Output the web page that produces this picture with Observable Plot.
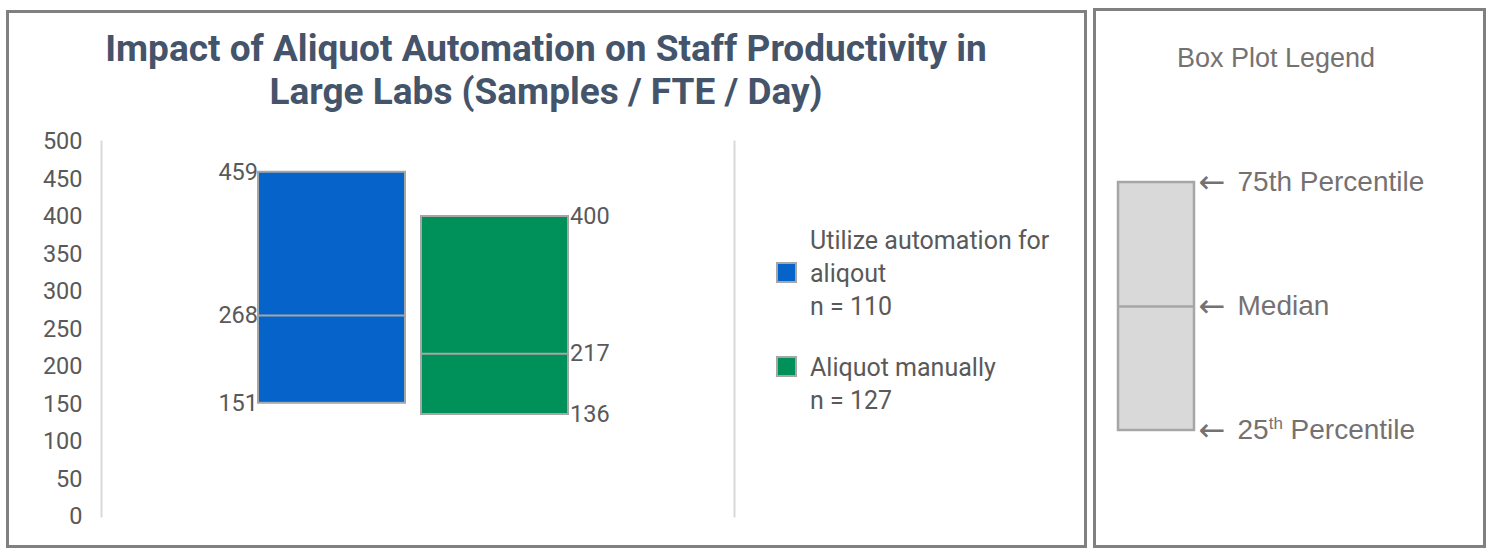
<!DOCTYPE html>
<html><head><meta charset="utf-8">
<script src="https://cdn.jsdelivr.net/npm/d3@7"></script>
<script src="https://cdn.jsdelivr.net/npm/@observablehq/plot@0.6"></script>
<style>
body{margin:0;width:1491px;height:558px;background:#fff;position:relative;overflow:hidden;font-family:Roboto,sans-serif;}
.panel{position:absolute;box-sizing:border-box;border:3px solid #808080;}
#title{position:absolute;left:46px;width:1000px;top:27px;text-align:center;font-family:Roboto,sans-serif;font-weight:700;font-size:37px;line-height:43px;color:#44546a;white-space:nowrap;}
#main{position:absolute;left:0;top:120px;}
#legend{position:absolute;left:776px;top:224px;font-family:Roboto,sans-serif;font-size:25px;line-height:33px;color:#595959;}
.item{position:relative;padding-left:34px;}
.sw{position:absolute;left:0;width:17px;height:17px;border:2px solid #a6a6a6;}
#boxtitle{position:absolute;left:1076px;width:400px;top:43px;text-align:center;font-family:"Liberation Sans",Arial,sans-serif;font-size:27px;color:#767171;}
#boxplot{position:absolute;left:1100px;top:150px;}
</style></head><body>
<div class="panel" style="left:6px;top:10px;width:1081px;height:538px"></div>
<div class="panel" style="left:1093px;top:8px;width:393px;height:540px"></div>
<div id="title">Impact of Aliquot Automation on Staff Productivity in<br>Large Labs (Samples / FTE / Day)</div>
<div id="main"></div>
<div id="legend"></div>
<div id="boxtitle">Box Plot Legend</div>
<div id="boxplot"></div>
<script>
// ---- data ----
const groups = ["Utilize automation for aliqout", "Aliquot manually"];
const legendLines = [["Utilize automation for", "aliqout", "n = 110"], ["Aliquot manually", "n = 127"]];
const q1Values = [151, 136];
const medianValues = [268, 217];
const q3Values = [459, 400];
const groupColors = ["#0563c9", "#00915a"];
const yTicks = [0, 50, 100, 150, 200, 250, 300, 350, 400, 450, 500];
const legendPercentiles = [75, 50, 25];
const legendLabels = ["75th Percentile", "Median", "25th Percentile"];

const rows = groups.map((g, i) => ({group: g, q1: q1Values[i], median: medianValues[i], q3: q3Values[i]}));
const labelRows = rows.flatMap(r => [r.q1, r.median, r.q3].map(v => ({group: r.group, value: v})));

const chart = Plot.plot({
  width: 1085, height: 420,
  marginLeft: 101, marginRight: 351, marginTop: 21, marginBottom: 24,
  style: {fontFamily: "Roboto, sans-serif", fontSize: "23.5px", color: "#595959", background: "transparent", overflow: "visible"},
  x: {type: "band", domain: groups, paddingInner: 0.0976, paddingOuter: 0.985, align: 0.486, axis: null},
  y: {domain: [0, 500], ticks: yTicks, tickSize: 0, tickPadding: 19, label: null},
  color: {domain: groups, range: groupColors},
  marks: [
    Plot.frame({anchor: "left", stroke: "#d9d9d9", strokeWidth: 2}),
    Plot.frame({anchor: "right", stroke: "#d9d9d9", strokeWidth: 2}),
    Plot.barY(rows, {x: "group", y1: "q1", y2: "q3", fill: "group", stroke: "#a6a6a6", strokeWidth: 2}),
    Plot.tickY(rows, {x: "group", y: "median", stroke: "#a6a6a6", strokeWidth: 2}),
    Plot.text(labelRows, {filter: d => d.group === groups[0], x: "group", y: "value", text: d => String(d.value), textAnchor: "end", dx: -74, fill: "#595959"}),
    Plot.text(labelRows, {filter: d => d.group === groups[1], x: "group", y: "value", text: d => String(d.value), textAnchor: "start", dx: 75, fill: "#595959"})
  ]
});
document.getElementById("main").appendChild(chart);

// legend
const leg = document.getElementById("legend");
legendLines.forEach((lines, i) => {
  const item = document.createElement("div");
  item.className = "item";
  item.style.marginBottom = i === 0 ? "28px" : "0";
  const sw = document.createElement("div");
  sw.className = "sw";
  sw.style.background = groupColors[i];
  sw.style.top = (lines.length === 3 ? 38 : 5) + "px";
  item.appendChild(sw);
  lines.forEach(t => { const d = document.createElement("div"); d.textContent = t; item.appendChild(d); });
  leg.appendChild(item);
});

// box plot legend
const legendRow = [{key: "box", q1: legendPercentiles[2], median: legendPercentiles[1], q3: legendPercentiles[0]}];
const legendText = legendPercentiles.map((p, i) => ({key: "box", p, label: legendLabels[i]}));
const boxLegend = Plot.plot({
  width: 380, height: 320,
  marginLeft: 18, marginRight: 286, marginTop: 32, marginBottom: 40,
  style: {fontFamily: "'Liberation Sans', Arial, sans-serif", fontSize: "28px", color: "#767171", background: "transparent", overflow: "visible"},
  x: {type: "band", domain: ["box"], padding: 0, axis: null},
  y: {domain: [25, 75], axis: null},
  marks: [
    Plot.barY(legendRow, {x: "key", y1: "q1", y2: "q3", fill: "#d9d9d9", stroke: "#a6a6a6", strokeWidth: 2.5}),
    Plot.tickY(legendRow, {x: "key", y: "median", stroke: "#a6a6a6", strokeWidth: 2.5}),
    Plot.text(legendText, {x: "key", y: "p", text: () => "\u2190", textAnchor: "start", dx: 42, fill: "#767171", fontFamily: "DejaVu Sans", fontSize: 32}),
    Plot.text(legendText, {x: "key", y: "p", text: "label", textAnchor: "start", dx: 81, fill: "#767171"})
  ]
});
document.getElementById("boxplot").appendChild(boxLegend);
// superscript for "25th"
boxLegend.querySelectorAll("text").forEach(t => {
  if (t.textContent === "25th Percentile") {
    t.textContent = "";
    const ns = "http://www.w3.org/2000/svg";
    const a = document.createElementNS(ns, "tspan"); a.textContent = "25";
    const b = document.createElementNS(ns, "tspan"); b.textContent = "th"; b.setAttribute("font-size", "17px"); b.setAttribute("dy", "-10");
    const c = document.createElementNS(ns, "tspan"); c.textContent = " Percentile"; c.setAttribute("dy", "10");
    t.append(a, b, c);
  }
});
</script>
</body></html>
